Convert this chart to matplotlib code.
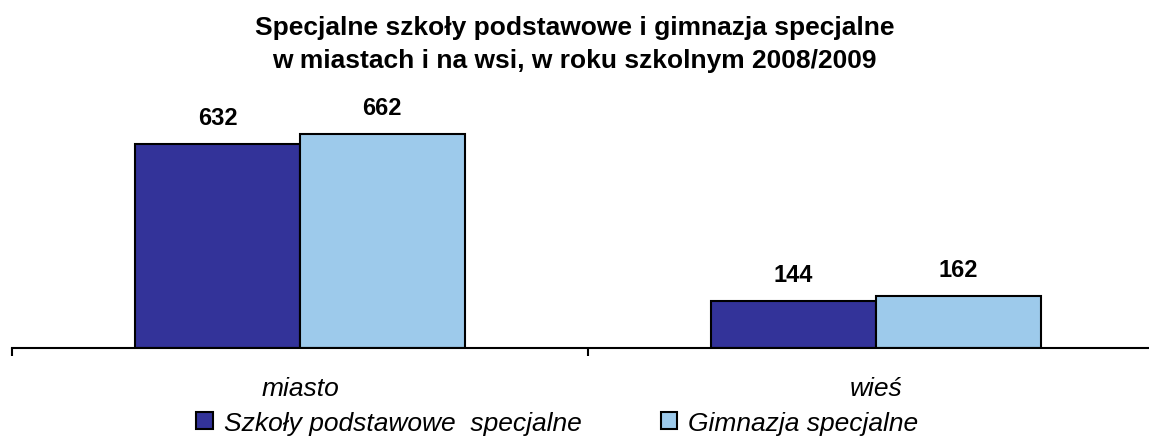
import matplotlib
matplotlib.use("Agg")
import matplotlib.pyplot as plt
import numpy as np

plt.rcParams['font.family'] = ['Liberation Sans', 'DejaVu Sans']

title_lines = ["Specjalne szkoły podstawowe i gimnazja specjalne",
               "w miastach i na wsi, w roku szkolnym 2008/2009"]
categories = ["miasto", "wieś"]
series_names = ["Szkoły podstawowe  specjalne", "Gimnazja specjalne"]
podstawowe = [632, 144]
gimnazja = [662, 162]
colors = ["#333399", "#9DCAEB"]

fig = plt.figure(figsize=(11.49, 4.39), dpi=100)
ax = fig.add_axes([12 / 1149, 90 / 439, 1 - 12 / 1149, 249 / 439])

x = np.arange(len(categories))
w = 0.286
b1 = ax.bar(x - w / 2, podstawowe, w, color=colors[0], edgecolor="black",
            linewidth=1.5, label=series_names[0])
b2 = ax.bar(x + w / 2, gimnazja, w, color=colors[1], edgecolor="black",
            linewidth=1.5, label=series_names[1])
# value labels: baseline ~20 px above the bar top
for bars, vals in ((b1, podstawowe), (b2, gimnazja)):
    for r, v in zip(bars, vals):
        ax.annotate(f"{v}", (r.get_x() + r.get_width() / 2, v),
                    xytext=(0, 14.4), textcoords="offset points",
                    ha="center", va="baseline", fontsize=17,
                    fontweight="bold")

for s in ("top", "right", "left"):
    ax.spines[s].set_visible(False)
ax.spines["bottom"].set_linewidth(1.5)
ax.set_yticks([])
ax.set_xticks([-0.5, 0.5])
ax.set_xticklabels([])
ax.tick_params(axis="x", length=6, width=1.5, direction="out")
ax.set_xlim(-0.5, -0.5 + 1137 / 576)
ax.set_ylim(0, 771)
for xi, c in zip(x, categories):
    ax.text(xi, -47 / 249, c, transform=ax.get_xaxis_transform(), ha="center",
            va="baseline", fontsize=19, fontstyle="italic")

for line, base in zip(title_lines, (35, 68)):
    fig.text(0.5, 1 - base / 439, line, ha="center", va="baseline",
             fontsize=19, fontweight="bold")

fig.legend(loc="center", bbox_to_anchor=(0.485, 1 - 424 / 439), ncol=2,
           frameon=False, prop={"size": 19, "style": "italic"},
           handlelength=0.64, handleheight=0.64, handletextpad=0.41,
           columnspacing=2.99, borderaxespad=0)

fig.savefig("out.png", dpi=100)
plt.close(fig)
